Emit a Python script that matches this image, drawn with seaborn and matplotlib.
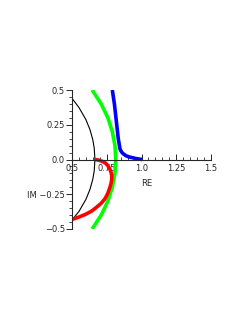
import matplotlib
matplotlib.use("Agg")
import matplotlib.pyplot as plt
import seaborn as sns
from matplotlib.ticker import MultipleLocator

# values
black_re = [0.50, 0.55, 0.60, 0.63, 0.65, 0.66, 0.665, 0.66, 0.65, 0.63, 0.60, 0.55, 0.50]
black_im = [0.44, 0.374, 0.287, 0.213, 0.140, 0.081, 0.0, -0.081, -0.140, -0.213, -0.287, -0.374, -0.435]

green_re = [0.645, 0.71, 0.758, 0.79, 0.809, 0.815, 0.809, 0.79, 0.758, 0.71, 0.645]
green_im = [0.5, 0.4, 0.3, 0.2, 0.1, 0.0, -0.1, -0.2, -0.3, -0.4, -0.5]

blue_re = [0.79, 0.805, 0.817, 0.833, 0.845, 0.852, 0.86, 0.869, 0.89, 0.917, 0.96, 1.005]
blue_im = [0.5, 0.4, 0.293, 0.149, 0.077, 0.062, 0.05, 0.041, 0.026, 0.017, 0.007, 0.0]

red_re = [0.665, 0.69, 0.714, 0.74, 0.757, 0.772, 0.781, 0.786, 0.786, 0.781, 0.773,
          0.757, 0.737, 0.71, 0.677, 0.64, 0.594, 0.545, 0.498]
red_im = [0.0, -0.004, -0.012, -0.025, -0.043, -0.068, -0.092, -0.115, -0.142, -0.17, -0.2,
          -0.245, -0.283, -0.315, -0.343, -0.372, -0.396, -0.416, -0.432]

xticks = [0.5, 0.75, 1.0, 1.25, 1.5]
xlabels = ["0.5", "0.75", "1.0", "1.25", "1.5"]
yticks = [-0.5, -0.25, 0.0, 0.25, 0.5]
ylabels = ["\u22120.5", "IM \u22120.25", "0.0", "0.25", "0.5"]

sns.set_style("white")
plt.rcParams["font.family"] = ["DejaVu Sans"]

fig = plt.figure(figsize=(2.46, 3.19), dpi=100)
ax = fig.add_axes([72 / 246, (319 - 229) / 319, 139 / 246, 139 / 319])

line_kw = dict(sort=False, estimator=None, ax=ax, solid_joinstyle="round", solid_capstyle="butt")
sns.lineplot(x=black_re, y=black_im, color="black", lw=0.8, **line_kw)
sns.lineplot(x=green_re, y=green_im, color="#00ff00", lw=2.6, **line_kw)
sns.lineplot(x=blue_re, y=blue_im, color="#0000ff", lw=2.6, **line_kw)
sns.lineplot(x=red_re, y=red_im, color="#ff0000", lw=2.6, **line_kw)

ax.set_xlim(0.5, 1.5)
ax.set_ylim(-0.5, 0.5)

for s in ["top", "right"]:
    ax.spines[s].set_visible(False)
ax.spines["bottom"].set_position(("data", 0))
ax.spines["left"].set_position(("data", 0.5))
ax.spines["bottom"].set_linewidth(0.8)
ax.spines["left"].set_linewidth(0.8)

ax.set_xticks(xticks)
ax.set_xticklabels(xlabels)
ax.set_yticks(yticks)
ax.set_yticklabels(ylabels)
ax.xaxis.set_minor_locator(MultipleLocator(0.05))
ax.yaxis.set_minor_locator(MultipleLocator(0.05))
ax.tick_params(axis="x", which="major", direction="in", length=4, width=0.7, labelsize=6, pad=3)
ax.tick_params(axis="x", which="minor", direction="in", length=2.5, width=0.6)
ax.tick_params(axis="y", which="major", direction="out", length=4, width=0.7, labelsize=6, pad=1)
ax.tick_params(axis="y", which="minor", direction="out", length=2.5, width=0.6)
ax.tick_params(bottom=True, left=True, which="both")

ax.text(1.0, -0.17, "RE", fontsize=6, ha="left", va="center")
ax.set_xlabel("")
ax.set_ylabel("")

fig.savefig("out.png", dpi=100)
